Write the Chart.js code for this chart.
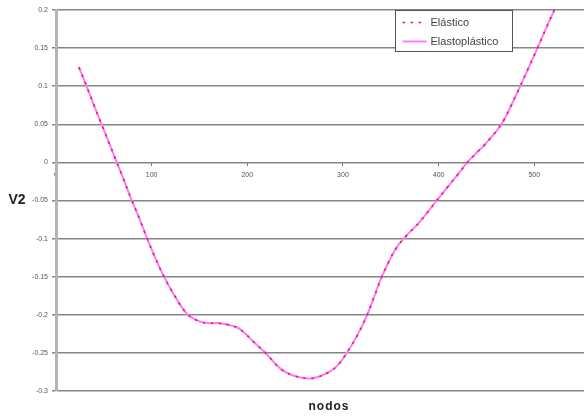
<!DOCTYPE html>
<html>
<head>
<meta charset="utf-8">
<script src="https://cdn.jsdelivr.net/npm/chart.js@4.4.1/dist/chart.umd.min.js"></script>
<style>
  html, body { margin: 0; padding: 0; background: #ffffff; }
  canvas { display: block; }
</style>
</head>
<body>
<canvas id="chart" width="584" height="417"></canvas>
<script>
// Node positions along the member
const nodos = [24, 31, 40, 48, 55, 62, 70, 78, 87, 95, 104, 113, 125, 138, 151, 160, 170, 180, 190, 198,
  207, 219, 235, 249, 263, 273, 287, 296, 304, 315, 325, 333, 340, 348, 356, 365, 381, 398, 409, 420,
  430, 440, 448, 455, 461, 468, 476, 485, 494, 503, 512, 521];

// V2 displacement, elastic analysis
const elastico = [0.125, 0.103, 0.074, 0.049, 0.027, 0.005, -0.02, -0.046, -0.073, -0.099, -0.126, -0.15, -0.177, -0.20, -0.209, -0.211, -0.211, -0.213, -0.217, -0.225,
  -0.236, -0.25, -0.271, -0.28, -0.2835, -0.282, -0.274, -0.264, -0.25, -0.227, -0.201, -0.175, -0.152, -0.13, -0.112, -0.098, -0.077, -0.05, -0.033, -0.016,
  0.0, 0.013, 0.023, 0.033, 0.042, 0.055, 0.075, 0.099, 0.124, 0.149, 0.175, 0.20];

// V2 displacement, elastoplastic analysis
const elastoplastico = [0.125, 0.103, 0.074, 0.049, 0.027, 0.005, -0.02, -0.046, -0.073, -0.099, -0.126, -0.15, -0.177, -0.20, -0.209, -0.211, -0.211, -0.213, -0.217, -0.225,
  -0.236, -0.25, -0.271, -0.28, -0.2835, -0.282, -0.274, -0.264, -0.25, -0.227, -0.201, -0.175, -0.152, -0.13, -0.112, -0.098, -0.077, -0.05, -0.033, -0.016,
  0.0, 0.013, 0.023, 0.033, 0.042, 0.055, 0.075, 0.099, 0.124, 0.149, 0.175, 0.20];

const xTicks = [0, 100, 200, 300, 400, 500];
const yLabel = 'V2';
const xLabel = 'nodos';

const toPoints = (ys) => nodos.map((x, i) => ({ x: x, y: ys[i] }));

// Axis titles drawn horizontally beside and below the plot
const axisTitles = {
  id: 'axisTitles',
  afterDraw(chart) {
    const { ctx } = chart;
    ctx.save();
    ctx.fillStyle = '#222222';
    ctx.textBaseline = 'middle';
    ctx.font = 'bold 14px "Liberation Sans", Arial, sans-serif';
    ctx.textAlign = 'center';
    ctx.fillText(yLabel, 17, chart.scales.y.getPixelForValue(-0.05));
    ctx.font = 'bold 12px "Liberation Sans", Arial, sans-serif';
    ctx.letterSpacing = '1px';
    ctx.fillText(xLabel, 329, 407);
    ctx.restore();
  }
};

// Boxed legend sitting inside the plot area, top right
const boxLegend = {
  id: 'boxLegend',
  afterDraw(chart) {
    const { ctx } = chart;
    const x0 = 395.5, y0 = 10.5, w = 117, h = 41;
    ctx.save();
    ctx.fillStyle = '#ffffff';
    ctx.fillRect(x0, y0, w, h);
    ctx.strokeStyle = '#555555';
    ctx.lineWidth = 1;
    ctx.strokeRect(x0, y0, w, h);
    ctx.font = '11px "Liberation Sans", Arial, sans-serif';
    ctx.textBaseline = 'middle';
    ctx.textAlign = 'left';
    chart.data.datasets.forEach((ds, i) => {
      const cy = y0 + 12 + i * 19;
      ctx.strokeStyle = ds.borderColor;
      ctx.lineWidth = ds.borderWidth;
      ctx.setLineDash(ds.borderDash || []);
      ctx.beginPath();
      ctx.moveTo(x0 + 7, cy);
      ctx.lineTo(x0 + 31, cy);
      ctx.stroke();
      ctx.setLineDash([]);
      ctx.fillStyle = '#444444';
      ctx.fillText(ds.label, x0 + 35, cy);
    });
    ctx.restore();
  }
};

new Chart(document.getElementById('chart'), {
  type: 'line',
  data: {
    datasets: [
      {
        label: 'Elástico',
        data: toPoints(elastico),
        borderColor: '#e2205e',
        borderWidth: 1.6,
        borderDash: [2.5, 5.5],
        pointRadius: 0,
        tension: 0.4,
        fill: false,
        order: 0
      },
      {
        label: 'Elastoplástico',
        data: toPoints(elastoplastico),
        borderColor: '#ff78ff',
        borderWidth: 2,
        pointRadius: 0,
        tension: 0.4,
        fill: false,
        order: 1
      }
    ]
  },
  options: {
    responsive: false,
    animation: false,
    layout: { padding: { left: 0, right: 0, top: 10, bottom: 26 } },
    plugins: {
      legend: { display: false },
      title: { display: false },
      tooltip: { enabled: false }
    },
    scales: {
      x: {
        type: 'linear',
        position: { y: 0 },
        min: 0,
        max: 552,
        afterBuildTicks(scale) {
          scale.ticks = xTicks.map(v => ({ value: v }));
        },
        ticks: {
          font: { size: 7, family: '"Liberation Sans", Arial, sans-serif' },
          color: '#555555',
          padding: 4,
          maxRotation: 0,
          autoSkip: false
        },
        grid: {
          drawOnChartArea: false,
          drawTicks: true,
          tickLength: 4,
          color: '#777777'
        },
        border: { display: false }
      },
      y: {
        type: 'linear',
        min: -0.3,
        max: 0.2,
        afterFit(scale) { scale.width = 56; },
        ticks: {
          stepSize: 0.05,
          font: { size: 7, family: '"Liberation Sans", Arial, sans-serif' },
          color: '#555555',
          padding: 4,
          callback: (v) => String(Number(v.toFixed(2)))
        },
        grid: {
          color: '#858585',
          lineWidth: 1.5,
          drawTicks: true,
          tickLength: 4
        },
        border: { display: true, color: '#b4b4b4', width: 3 }
      }
    }
  },
  plugins: [axisTitles, boxLegend]
});
</script>
</body>
</html>
